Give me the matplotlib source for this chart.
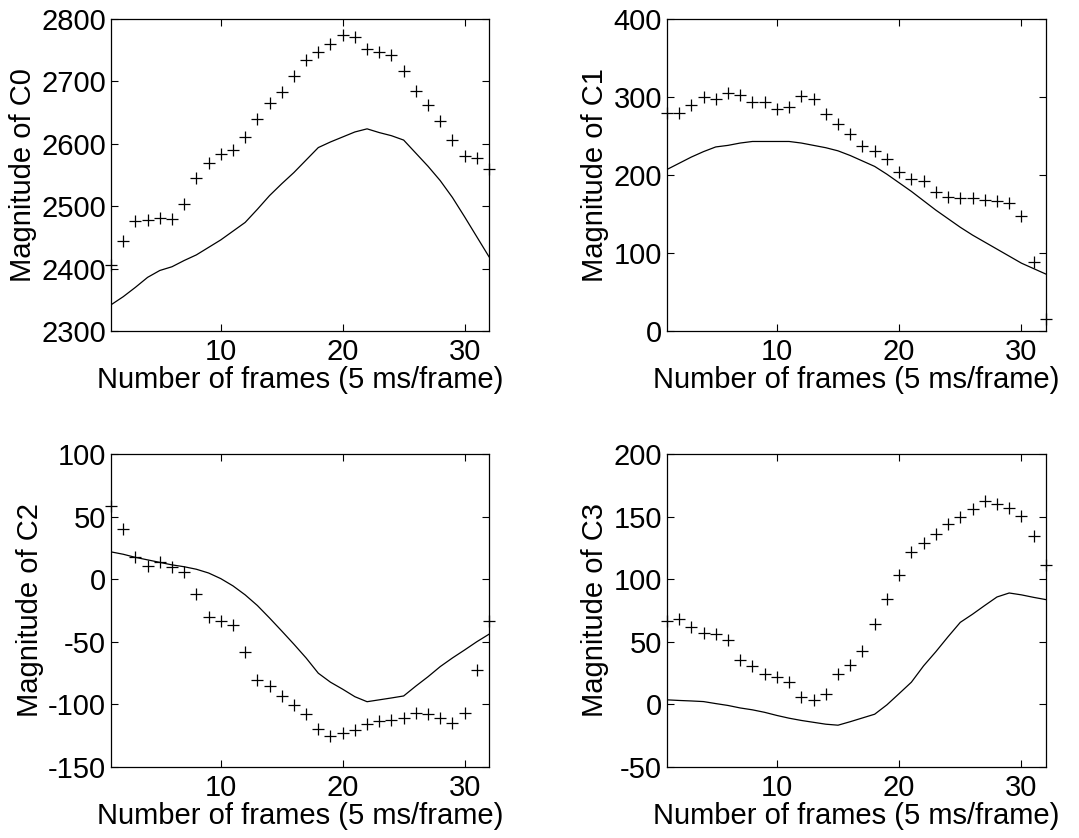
import matplotlib
matplotlib.use('Agg')
import matplotlib.pyplot as plt

plt.rcParams['font.family'] = ['Liberation Sans', 'DejaVu Sans']

frames = list(range(1, 33))

# measured (+) and model (line) values per coefficient
c0_meas = [2405, 2445, 2477, 2478, 2481, 2480, 2504, 2546, 2570, 2583, 2590, 2611,
           2640, 2665, 2683, 2709, 2734, 2747, 2760, 2775, 2771, 2752, 2747, 2743,
           2717, 2684, 2662, 2636, 2606, 2581, 2577, 2559]
c0_model = [2342, 2355, 2370, 2386, 2397, 2403, 2413, 2422, 2434, 2446, 2460, 2474,
            2495, 2517, 2536, 2554, 2574, 2594, 2603, 2611, 2619, 2624, 2618, 2613,
            2606, 2585, 2564, 2541, 2514, 2483, 2451, 2419]

c1_meas = [279, 279, 290, 300, 297, 305, 302, 294, 293, 285, 287, 301,
           297, 278, 266, 252, 237, 231, 221, 204, 195, 192, 178, 172,
           170, 170, 168, 167, 164, 148, 88, 16]
c1_model = [207, 215, 223, 230, 236, 238, 241, 243, 243, 243, 243, 241,
            238, 235, 231, 225, 218, 211, 201, 190, 179, 167, 155, 144,
            133, 123, 114, 105, 96, 87, 80, 73]

c2_meas = [59, 40, 17.6, 10.7, 13.9, 10, 5.6, -12, -29.9, -33.4, -36.3, -58.4,
           -80.3, -85.4, -93.7, -100.6, -107.5, -120, -125.4, -122.7, -121, -116,
           -113.4, -113, -110.7, -107.3, -107.8, -111.3, -115.3, -106.7, -72.8, -33.6]
c2_model = [21.9, 20, 17.5, 15.5, 13.5, 11.5, 10, 8, 5, 0.5, -5.3, -12.5,
            -21, -31, -41.4, -52, -63, -75.2, -82.4, -88, -94, -98,
            -96.5, -95, -93.4, -85.5, -78, -69.9, -63, -56.6, -50, -44]

c3_meas = [66.3, 68.2, 62, 57, 56.4, 51, 35.6, 30.2, 24.3, 21.9, 17.9, 5.9,
           3.5, 8.3, 24, 31, 42.8, 63.9, 84.2, 103.7, 121.7, 129.1, 136.4, 144.4,
           150, 155.9, 162.6, 159.9, 157, 150.5, 135, 111]
c3_model = [3.5, 3, 2.6, 2.1, 0.5, -1, -3, -4.5, -6.5, -9, -11.2, -13,
            -14.5, -16, -16.8, -14, -11, -8, -0.5, 8.5, 17.6, 30.7,
            42, 54, 65.5, 72, 79, 85.8, 89, 87.5, 85.5, 83.7]

panels = [
    ('Magnitude of C0', c0_meas, c0_model, (2300, 2800), [2300, 2400, 2500, 2600, 2700, 2800]),
    ('Magnitude of C1', c1_meas, c1_model, (0, 400), [0, 100, 200, 300, 400]),
    ('Magnitude of C2', c2_meas, c2_model, (-150, 100), [-150, -100, -50, 0, 50, 100]),
    ('Magnitude of C3', c3_meas, c3_model, (-50, 200), [-50, 0, 50, 100, 150, 200]),
]

# left, bottom, width, height
positions = [
    [0.1029, 0.605, 0.3503, 0.3723],
    [0.618, 0.605, 0.3513, 0.3723],
    [0.1029, 0.0851, 0.3503, 0.3728],
    [0.618, 0.0851, 0.3513, 0.3728],
]

fig = plt.figure(figsize=(10.79, 8.38), dpi=100)
for (ylab, meas, model, ylim, yticks), pos in zip(panels, positions):
    ax = fig.add_axes(pos)
    ax.plot(frames, model, color='black', lw=0.9)
    ax.plot(frames, meas, ls='none', marker='+', ms=9, mew=0.9, color='black',
            clip_on=False)
    ax.set_xlim(1, 32)
    ax.set_ylim(*ylim)
    ax.set_xticks([10, 20, 30])
    ax.set_yticks(yticks)
    ax.set_yticklabels([str(t) for t in yticks])  # plain hyphen minus like the original
    ax.tick_params(direction='in', top=True, right=True, length=5, width=0.8,
                   labelsize=21)
    ax.tick_params(axis='x', pad=5)
    ax.tick_params(axis='y', pad=3.5)
    for s in ax.spines.values():
        s.set_linewidth(0.9)
    ax.set_xlabel('Number of frames (5 ms/frame)', fontsize=21, labelpad=0)
    ax.set_ylabel(ylab, fontsize=21, labelpad=3)

plt.savefig('out.png', dpi=100)
